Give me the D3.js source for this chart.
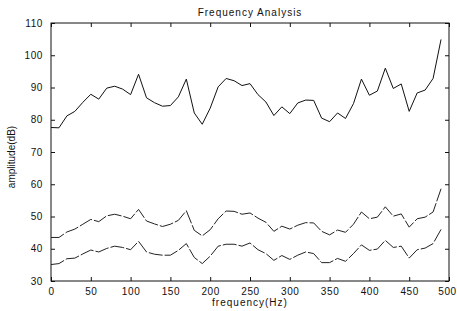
<!DOCTYPE html>
<html>
<head>
<meta charset="utf-8">
<script src="https://cdn.jsdelivr.net/npm/d3@7"></script>
<style>
  body { margin: 0; background: #fff; }
  text { font-family: "Liberation Sans", Arial, sans-serif; fill: #111; }
</style>
</head>
<body>
<section></section>
<script>
// frequencies sampled every 10 Hz
var freq = d3.range(0, 500, 10);

// amplitudes (dB)
var upper = [77.6, 77.5, 81.2, 82.6, 85.4, 87.9, 86.4, 89.8, 90.4, 89.5,
  87.8, 94.1, 86.8, 85.3, 84.2, 84.4, 87.1, 92.6, 82.1, 78.6,
  83.6, 90.2, 92.8, 92.1, 90.6, 91.2, 87.8, 85.5, 81.3, 84.0,
  81.9, 85.2, 86.1, 86.0, 80.5, 79.4, 82.1, 80.4, 85.0, 92.6,
  87.6, 88.9, 96.0, 89.7, 91.1, 82.6, 88.3, 89.2, 92.8, 104.9];

var middle = [43.5, 43.5, 45.2, 46.1, 47.6, 49.1, 48.4, 50.2, 50.7, 50.1,
  49.3, 52.2, 48.6, 47.7, 46.9, 47.6, 48.8, 51.8, 45.7, 44.0,
  45.9, 49.3, 51.7, 51.6, 50.7, 51.1, 49.5, 48.2, 45.4, 47.0,
  46.1, 47.3, 48.1, 48.0, 45.4, 44.3, 45.8, 45.1, 47.6, 51.4,
  49.3, 49.8, 53.0, 50.1, 50.8, 46.7, 49.3, 49.8, 51.4, 58.6];

var lower = [35.1, 35.4, 36.9, 37.1, 38.4, 39.6, 39.0, 40.1, 40.8, 40.4,
  39.7, 42.3, 39.0, 38.3, 38.0, 38.0, 39.5, 41.6, 37.3, 35.4,
  37.7, 40.8, 41.4, 41.4, 40.8, 41.8, 39.7, 38.5, 36.4, 37.9,
  36.7, 38.0, 39.0, 38.5, 35.7, 35.7, 37.0, 36.1, 38.5, 41.2,
  39.5, 39.9, 42.6, 40.4, 40.8, 37.1, 39.7, 40.2, 41.6, 46.0];

var xTicks = [0, 50, 100, 150, 200, 250, 300, 350, 400, 450, 500];
var yTicks = [30, 40, 50, 60, 70, 80, 90, 100, 110];

// set the dimensions and margins of the plot
var margin = {top: 23, right: 8, bottom: 30, left: 51},
  width = 457 - margin.left - margin.right,
  height = 311 - margin.top - margin.bottom;

var svg = d3.select("section").append("svg")
      .attr("width", 457)
      .attr("height", 311),
    g = svg.append("g")
      .attr("transform", "translate(" + margin.left + "," + margin.top + ")");

var x = d3.scaleLinear().domain([0, 500]).range([0, width]);
var y = d3.scaleLinear().domain([30, 110]).range([height, 0]);

// axes with inward ticks, on all four sides
function styleAxis(sel) {
  sel.select(".domain").remove();
  sel.selectAll("line").attr("stroke", "#111");
  sel.selectAll("text").style("font-size", "10px").style("letter-spacing", "0.6px");
}

var xAxis = g.append("g")
  .attr("transform", "translate(0," + height + ")")
  .call(d3.axisBottom(x).tickValues(xTicks).tickSizeInner(-4).tickSizeOuter(0).tickPadding(7))
  .call(styleAxis);

// keep the last label inside the window
xAxis.selectAll(".tick text")
  .filter(function(d) { return d === 500; })
  .attr("dx", -2);

g.append("g")
  .call(d3.axisLeft(y).tickValues(yTicks).tickSizeInner(-4).tickSizeOuter(0).tickPadding(8))
  .call(styleAxis);

g.append("g")
  .call(d3.axisTop(x).tickValues(xTicks).tickSizeInner(-4).tickSizeOuter(0).tickFormat(""))
  .call(styleAxis);

g.append("g")
  .attr("transform", "translate(" + width + ",0)")
  .call(d3.axisRight(y).tickValues(yTicks).tickSizeInner(-4).tickSizeOuter(0).tickFormat(""))
  .call(styleAxis);

// frame
g.append("rect")
  .attr("width", width)
  .attr("height", height)
  .attr("fill", "none")
  .attr("stroke", "#111")
  .attr("stroke-width", 1);

// the three curves
var line = d3.line()
  .x(function(d, i) { return x(freq[i]); })
  .y(function(d) { return y(d); });

g.append("path").datum(upper)
  .attr("d", line)
  .attr("fill", "none")
  .attr("stroke", "#111")
  .attr("stroke-width", 1);

g.append("path").datum(middle)
  .attr("d", line)
  .attr("fill", "none")
  .attr("stroke", "#222")
  .attr("stroke-width", 1)
  .attr("stroke-dasharray", "14,2");

g.append("path").datum(lower)
  .attr("d", line)
  .attr("fill", "none")
  .attr("stroke", "#222")
  .attr("stroke-width", 1)
  .attr("stroke-dasharray", "14,2");

// titles
svg.append("text")
  .attr("x", margin.left + width / 2)
  .attr("y", 16)
  .attr("text-anchor", "middle")
  .style("font-size", "10px")
  .style("letter-spacing", "1px")
  .text("Frequency Analysis");

svg.append("text")
  .attr("x", margin.left + width / 2)
  .attr("y", 306)
  .attr("text-anchor", "middle")
  .style("font-size", "10px")
  .style("letter-spacing", "1px")
  .text("frequency(Hz)");

svg.append("text")
  .attr("transform", "translate(15," + (margin.top + height / 2 + 5) + ") rotate(-90)")
  .attr("text-anchor", "middle")
  .style("font-size", "10px")
  .text("amplitude(dB)");
</script>
</body>
</html>
